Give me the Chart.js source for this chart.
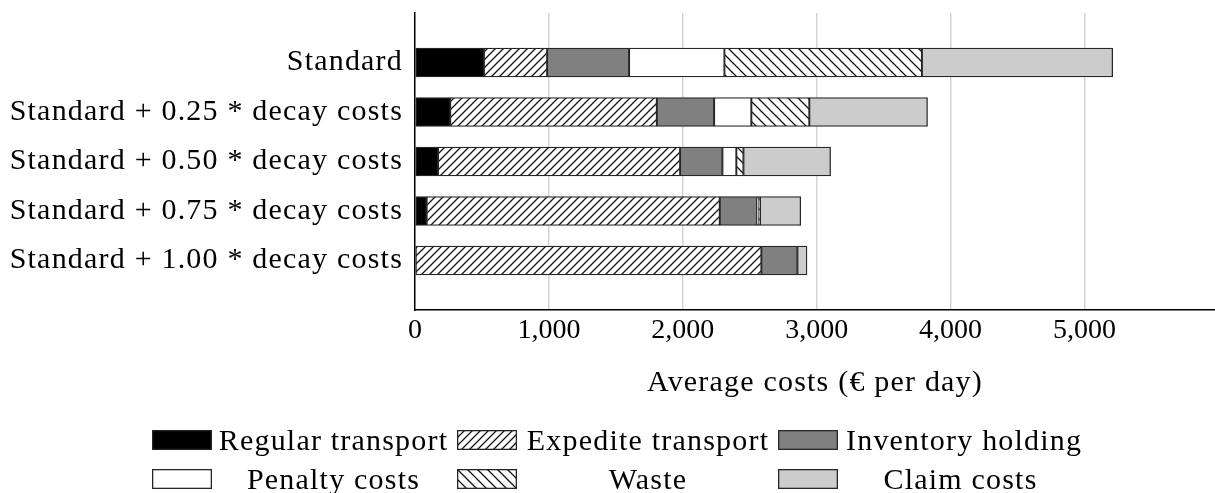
<!DOCTYPE html>
<html><head><meta charset="utf-8">
<script src="https://cdn.jsdelivr.net/npm/chart.js@4"></script>
<style>
html,body{margin:0;padding:0;background:#fff;}
#wrap{position:relative;width:1215px;height:493px;overflow:hidden;}
#c{position:absolute;left:0;top:0;}
#legend{position:absolute;left:0;top:0;width:1215px;height:493px;pointer-events:none;font-family:"Liberation Serif",serif;font-size:30px;letter-spacing:1.2px;color:#000;}
.sw{position:absolute;}
.lt{position:absolute;text-align:center;white-space:nowrap;line-height:34px;height:34px;}
</style></head>
<body><div id="wrap"><canvas id="c" width="1215" height="493"></canvas><div id="legend"></div></div>
<script>
// ---- data ----
const categories = ['Standard', 'Standard + 0.25 * decay costs', 'Standard + 0.50 * decay costs', 'Standard + 0.75 * decay costs', 'Standard + 1.00 * decay costs'];
const seriesNames = ['Regular transport', 'Expedite transport', 'Inventory holding', 'Penalty costs', 'Waste', 'Claim costs'];
const regularTransport = [515, 263, 172, 87, 0];
const expediteTransport = [472, 1543, 1808, 2189, 2587];
const inventoryHolding = [612, 428, 316, 279, 269];
const penaltyCosts = [712, 278, 104, 7, 0];
const waste = [1475, 433, 53, 15, 0];
const claimCosts = [1425, 883, 651, 304, 72];
const xTickValues = [0, 1000, 2000, 3000, 4000, 5000];
const xMax = 5975;

// ---- styling ----
const FONT = {family: '"Liberation Serif", serif', size: 30};
const TICKFONT = {family: '"Liberation Serif", serif', size: 28};
const SPACING = '1.2px';
function hatch(dir, size) {
  const c = document.createElement('canvas');
  c.width = c.height = size;
  const g = c.getContext('2d');
  g.fillStyle = '#fff'; g.fillRect(0, 0, size, size);
  g.strokeStyle = '#111'; g.lineWidth = 1.25; g.beginPath();
  if (dir === 'ne') {
    g.moveTo(0, size); g.lineTo(size, 0);
    g.moveTo(-2, 2); g.lineTo(2, -2);
    g.moveTo(size - 2, size + 2); g.lineTo(size + 2, size - 2);
  } else {
    g.moveTo(0, 0); g.lineTo(size, size);
    g.moveTo(size - 2, -2); g.lineTo(size + 2, 2);
    g.moveTo(-2, size - 2); g.lineTo(2, size + 2);
  }
  g.stroke();
  return c;
}
const neTile = hatch('ne', 8), nwTile = hatch('nw', 10);
const ctx = document.getElementById('c').getContext('2d');
const fills = ['#000000', ctx.createPattern(neTile, 'repeat'), '#808080', '#ffffff', ctx.createPattern(nwTile, 'repeat'), '#cccccc'];
const seriesValues = [regularTransport, expediteTransport, inventoryHolding, penaltyCosts, waste, claimCosts];

// padded categories so that rows sit at the same spacing as the reference
const labels = [''].concat(categories, ['']);
const pad = arr => [null].concat(arr.map(v => v === 0 ? null : v), [null]);

const datasets = seriesNames.map((name, i) => ({
  label: name,
  data: pad(seriesValues[i]),
  backgroundColor: fills[i],
  borderColor: '#262626',
  borderWidth: 1.3,
  borderSkipped: false,
  barThickness: 29
}));

const spacingPlugin = {
  id: 'spacing',
  beforeDraw: chart => { chart.ctx.letterSpacing = SPACING; },
  afterDraw: chart => { chart.ctx.letterSpacing = '0px'; }
};

const chart = new Chart(ctx, {
  type: 'bar',
  data: {labels, datasets},
  plugins: [spacingPlugin],
  options: {
    indexAxis: 'y',
    responsive: false,
    animation: false,
    devicePixelRatio: 1,
    layout: {padding: {top: 13, right: 0, bottom: 83, left: 0}},
    plugins: {legend: {display: false}, tooltip: {enabled: false}},
    scales: {
      x: {
        stacked: true, min: 0, max: xMax,
        afterBuildTicks: s => { s.ticks = xTickValues.map(v => ({value: v})); },
        ticks: {font: TICKFONT, color: '#000', padding: 4, maxRotation: 0, autoSkip: false,
                callback: v => Number(v).toLocaleString('en-US')},
        grid: {drawTicks: false, lineWidth: 1.5,
               color: c => (c.tick && c.tick.value === 0) ? 'rgba(0,0,0,0)' : '#d4d4d4'},
        border: {color: '#000', width: 1.5},
        title: {display: true, text: 'Average costs (€ per day)', font: FONT, color: '#000', padding: {top: 0, bottom: 9}},
        afterFit: s => { s.height = 100; s.paddingLeft = 0; s.paddingRight = 0; }
      },
      y: {
        stacked: true, offset: false,
        ticks: {font: FONT, color: '#000', padding: 12, autoSkip: false},
        grid: {display: false, drawTicks: false},
        border: {color: '#000', width: 1.5},
        afterFit: s => { s.width = 415; s.paddingTop = 0; s.paddingBottom = 0; }
      }
    }
  }
});

// x tick numbers are drawn without extra letter spacing
const xs = chart.scales.x;
const origDrawLabels = xs.drawLabels.bind(xs);
xs.drawLabels = function (area) {
  const c = this.ctx, old = c.letterSpacing;
  c.letterSpacing = '0px';
  origDrawLabels(area);
  c.letterSpacing = old;
};
chart.draw();

// ---- legend (HTML, built from the series) ----
const legend = document.getElementById('legend');
const cols = [{sw: 152, tl: 218, tr: 449}, {sw: 457, tl: 526, tr: 770}, {sw: 778, tl: 846, tr: 1075}];
const rowCenters = [440, 479];
seriesNames.forEach((name, i) => {
  const col = cols[i % 3], cy = rowCenters[Math.floor(i / 3)];
  const sw = document.createElement('canvas');
  sw.width = 60; sw.height = 20; sw.className = 'sw';
  sw.style.left = col.sw + 'px'; sw.style.top = (cy - 10) + 'px';
  const g = sw.getContext('2d');
  g.fillStyle = (typeof fills[i] === 'string') ? fills[i] : g.createPattern(i === 1 ? neTile : nwTile, 'repeat');
  g.fillRect(0, 0, 60, 20);
  g.strokeStyle = '#262626'; g.lineWidth = 1.3; g.strokeRect(0.65, 0.65, 58.7, 18.7);
  legend.appendChild(sw);
  const t = document.createElement('div');
  t.className = 'lt'; t.textContent = name;
  t.style.left = col.tl + 'px'; t.style.width = (col.tr - col.tl) + 'px'; t.style.top = (cy - 17) + 'px';
  legend.appendChild(t);
});
</script>
</body></html>
